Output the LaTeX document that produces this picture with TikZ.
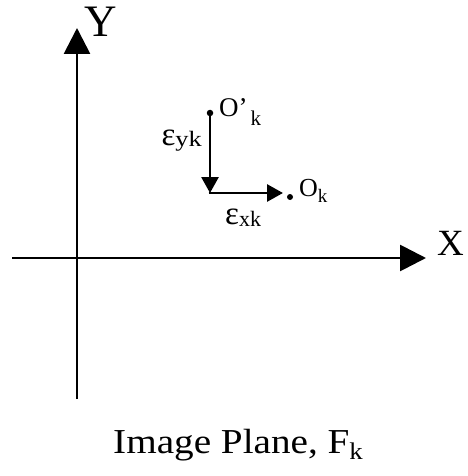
\documentclass[tikz,border=0pt]{standalone}
\usepackage{fontspec}
\setmainfont{Liberation Serif}
\usetikzlibrary{arrows.meta}
\newcommand{\lsub}[3]{\raisebox{-#1}{\fontsize{#2}{#2}\selectfont #3}}
\newcommand{\wsub}[3]{\raisebox{-#1}{\scalebox{1.2}[1]{\fontsize{#2}{#2}\selectfont #3}}}
\begin{document}
\begin{tikzpicture}[x=1pt,y=-1pt,
  axis/.style={line width=2.8pt,-{Triangle[length=26pt,width=26pt]}},
  small/.style={line width=2.8pt,-{Triangle[length=16pt,width=17pt]}},
  pt/.style={circle,fill=black,inner sep=0pt,minimum size=6.5pt},
  lbl/.style={inner sep=0pt}]
\useasboundingbox (0,0) rectangle (467,476);
\coordinate (ybot) at (77,399);
\coordinate (ytop) at (77,28);
\coordinate (xl) at (12,258);
\coordinate (xr) at (426,258);
\draw[axis] (ybot) -- (ytop);
\draw[axis] (xl) -- (xr);
\node[lbl,anchor=base,font=\fontsize{45}{47}\selectfont] (Y) at (101,37) {Y};
\node[lbl,anchor=base west,font=\fontsize{37}{39}\selectfont] (X) at (437,255) {X};
\node[pt] (Op) at (210,113) {};
\coordinate (corner) at (210,193);
\node[pt,minimum size=6pt] (O) at (290,197) {};
\draw[small] (Op.center) -- (corner);
\draw[line width=2.8pt] (208.6,193) -- (corner);
\draw[small] (corner) -- (283,193);
\node[lbl,anchor=base west,font=\fontsize{27}{29}\selectfont] (Opl) at (219,117) {O’\hspace{3pt}\lsub{9pt}{21}{k}};
\node[lbl,anchor=base east,font=\fontsize{33}{35}\selectfont] (eyk) at (202,146) {ε\wsub{1pt}{22}{yk}};
\node[lbl,anchor=base west,font=\fontsize{33}{35}\selectfont] (exk) at (225,224) {ε\lsub{2pt}{22}{xk}};
\node[lbl,anchor=base west,font=\fontsize{26}{28}\selectfont] (Ol) at (299,196) {O\lsub{6pt}{19}{k}};
\node[lbl,anchor=base west,font=\fontsize{35}{37}\selectfont,xscale=1.12] (cap) at (113,453) {Image Plane, F\lsub{6pt}{24}{k}};
\end{tikzpicture}
\end{document}
